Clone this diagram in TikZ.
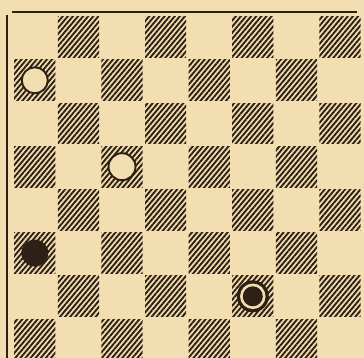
\documentclass[tikz,border=0pt]{standalone}
\usetikzlibrary{patterns.meta}
\definecolor{paper}{RGB}{243,222,178}
\definecolor{ink}{RGB}{45,32,20}
\tikzset{
  darksq/.style={pattern={Lines[angle=50,distance=3.9pt,line width=1.9pt]},pattern color=ink},
  whitepiece/.style={circle,draw=ink,line width=1.9pt,fill=paper,minimum size=26pt,inner sep=0pt},
  blackpiece/.style={circle,fill=ink,minimum size=27pt,inner sep=0pt},
  kingouter/.style={circle,fill=ink,minimum size=32pt,inner sep=0pt},
  kingring/.style={circle,fill=paper,minimum size=25.5pt,inner sep=0pt},
  kinginner/.style={circle,fill=ink,minimum size=20pt,inner sep=0pt},
  border/.style={draw=ink}
}
\begin{document}
\begin{tikzpicture}[x=1pt,y=-1pt]
\fill[paper] (0,0) rectangle (364,358);
\useasboundingbox (0,0) rectangle (364,358);
\begin{scope}
\clip (0,0) rectangle (364,358);
\foreach \r in {0,...,7}{
  \foreach \c in {0,...,7}{
    \pgfmathtruncatemacro{\odd}{mod(\r+\c,2)}
    \ifnum\odd=1
      \path[darksq] ({13+43.6*\c+1.2},{15.5+43.2*\r+1.2}) rectangle ({13+43.6*(\c+1)-1.2},{15.5+43.2*(\r+1)-1.2});
    \fi
  }
}
\end{scope}
\coordinate (tl) at (12,12);
\coordinate (tr) at (357,12);
\coordinate (lt) at (7,15);
\coordinate (lb) at (7,358);
\draw[border,line width=2.4pt] (tl) -- (tr);
\draw[border,line width=1.4pt] (lt) -- (lb);
% pieces
\node[whitepiece] (w1) at ({13+43.6*0.5},{15.5+43.2*1.5}) {};
\node[whitepiece,minimum size=27pt] (w2) at ({13+43.6*2.5},{15.5+43.2*3.5}) {};
\node[blackpiece] (b1) at ({13+43.6*0.5},{15.5+43.2*5.5}) {};
\node[kingouter] (k1) at ({13+43.6*5.5},{15.5+43.2*6.5}) {};
\node[kingring] (k2) at (k1.center) {};
\node[kinginner] (k3) at (k1.center) {};
\end{tikzpicture}
\end{document}
